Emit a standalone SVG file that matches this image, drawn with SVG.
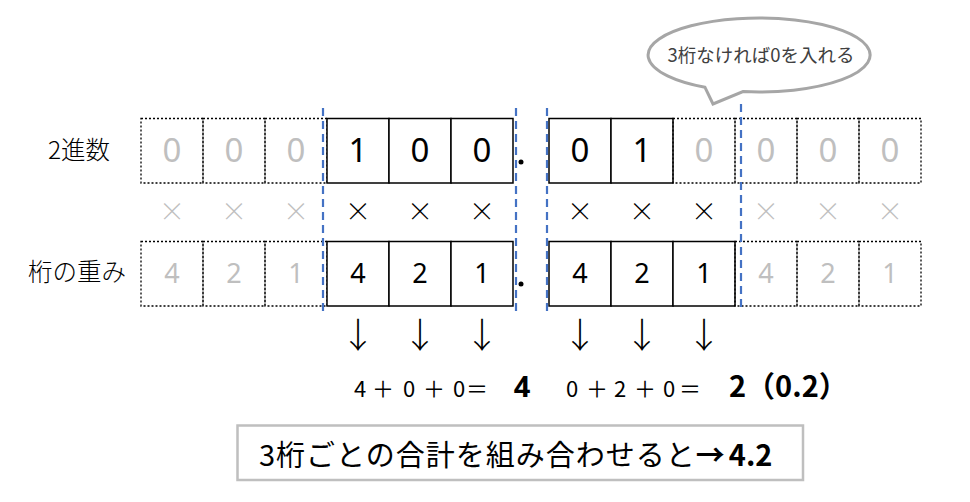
<svg xmlns="http://www.w3.org/2000/svg" width="970" height="502" viewBox="0 0 970 502">
<style>
.jp{font-family:"Noto Sans CJK JP","Noto Sans",sans-serif}
.lt{font-weight:300}
.sol{fill:#fff;stroke:#000;stroke-width:1.5}
.dot{fill:none;stroke:#000;stroke-width:1.3;stroke-dasharray:2 2}
.blue{stroke:#4472c4;stroke-width:2.2;stroke-dasharray:8 5;fill:none}
.dg{font-family:"Noto Sans","Noto Sans CJK JP",sans-serif;text-anchor:middle}
.big{font-size:33px}
.mid{font-size:27px}
.gray{fill:#bfbfbf}
.blk{fill:#000}
.x{font-family:"Noto Sans CJK JP",sans-serif;font-size:26px;text-anchor:middle;font-weight:300}
.arr{font-family:"Noto Sans CJK JP",sans-serif;font-size:35px;text-anchor:middle;fill:#000;font-weight:300}
</style>
<rect width="970" height="502" fill="#fff"/>

<g id="labels" class="jp lt" fill="#000">
<text x="48" y="159" font-size="24.5">2進数</text>
<text x="28" y="281" font-size="24.5">桁の重み</text>
</g>

<g id="row-binary">
<rect class="dot" x="141" y="118.5" width="62" height="64.5"/>
<rect class="dot" x="203" y="118.5" width="62" height="64.5"/>
<rect class="dot" x="265" y="118.5" width="62" height="64.5"/>
<rect class="sol" x="327" y="118.5" width="62" height="64.5"/>
<rect class="sol" x="389" y="118.5" width="62" height="64.5"/>
<rect class="sol" x="451" y="118.5" width="62" height="64.5"/>
<rect class="sol" x="549" y="118.5" width="62" height="64.5"/>
<rect class="sol" x="611" y="118.5" width="62" height="64.5"/>
<rect class="dot" x="673" y="118.5" width="62" height="64.5"/>
<rect class="dot" x="735" y="118.5" width="62" height="64.5"/>
<rect class="dot" x="797" y="118.5" width="62" height="64.5"/>
<rect class="dot" x="859" y="118.5" width="62" height="64.5"/>
<g class="dg big">
<text class="gray" x="172" y="162">0</text>
<text class="gray" x="234" y="162">0</text>
<text class="gray" x="296" y="162">0</text>
<text class="blk" x="358" y="162">1</text>
<text class="blk" x="420" y="162">0</text>
<text class="blk" x="482" y="162">0</text>
<text class="blk" x="580" y="162">0</text>
<text class="blk" x="642" y="162">1</text>
<text class="gray" x="704" y="162">0</text>
<text class="gray" x="766" y="162">0</text>
<text class="gray" x="828" y="162">0</text>
<text class="gray" x="890" y="162">0</text>
</g>
<circle cx="521" cy="162" r="2.5" fill="#000"/>
</g>

<g id="row-times" class="x">
<text class="gray" x="172" y="221">×</text>
<text class="gray" x="234" y="221">×</text>
<text class="gray" x="296" y="221">×</text>
<text class="blk" x="358" y="221">×</text>
<text class="blk" x="420" y="221">×</text>
<text class="blk" x="482" y="221">×</text>
<text class="blk" x="580" y="221">×</text>
<text class="blk" x="642" y="221">×</text>
<text class="blk" x="704" y="221">×</text>
<text class="gray" x="766" y="221">×</text>
<text class="gray" x="828" y="221">×</text>
<text class="gray" x="890" y="221">×</text>
</g>

<g id="row-weight">
<rect class="dot" x="141" y="241.5" width="62" height="64.5"/>
<rect class="dot" x="203" y="241.5" width="62" height="64.5"/>
<rect class="dot" x="265" y="241.5" width="62" height="64.5"/>
<rect class="sol" x="327" y="241.5" width="62" height="64.5"/>
<rect class="sol" x="389" y="241.5" width="62" height="64.5"/>
<rect class="sol" x="451" y="241.5" width="62" height="64.5"/>
<rect class="sol" x="549" y="241.5" width="62" height="64.5"/>
<rect class="sol" x="611" y="241.5" width="62" height="64.5"/>
<rect class="sol" x="673" y="241.5" width="62" height="64.5"/>
<rect class="dot" x="735" y="241.5" width="62" height="64.5"/>
<rect class="dot" x="797" y="241.5" width="62" height="64.5"/>
<rect class="dot" x="859" y="241.5" width="62" height="64.5"/>
<g class="dg mid">
<text class="gray" x="172" y="283">4</text>
<text class="gray" x="234" y="283">2</text>
<text class="gray" x="296" y="283">1</text>
<text class="blk" x="358" y="283">4</text>
<text class="blk" x="420" y="283">2</text>
<text class="blk" x="482" y="283">1</text>
<text class="blk" x="580" y="283">4</text>
<text class="blk" x="642" y="283">2</text>
<text class="blk" x="704" y="283">1</text>
<text class="gray" x="766" y="283">4</text>
<text class="gray" x="828" y="283">2</text>
<text class="gray" x="890" y="283">1</text>
</g>
<circle cx="521" cy="284" r="2.5" fill="#000"/>
</g>

<g id="connectors">
<line class="blue" x1="323" y1="108" x2="323" y2="313"/>
<line class="blue" x1="516" y1="108" x2="516" y2="313"/>
<line class="blue" x1="547" y1="108" x2="547" y2="313"/>
<line class="blue" x1="741" y1="104" x2="741" y2="310"/>
</g>

<g id="callout">
<path d="M705,87.3 L713,104 L743,91.6 A111,37 0 1 0 705,87.3 Z" fill="#fff" stroke="#a6a6a6" stroke-width="3" stroke-linejoin="miter"/>
<text class="jp" x="761" y="62" font-size="18.5" text-anchor="middle" fill="#404040">3桁なければ0を入れる</text>
</g>

<g id="arrows">
<text class="arr" x="358" y="348">↓</text>
<text class="arr" x="420" y="348">↓</text>
<text class="arr" x="482" y="348">↓</text>
<text class="arr" x="580" y="348">↓</text>
<text class="arr" x="642" y="348">↓</text>
<text class="arr" x="704" y="348">↓</text>
</g>

<g id="sums" fill="#000">
<text class="jp" font-size="22" y="397" text-anchor="middle" x="360 383 409 434 459 477">4＋0＋0＝</text>
<text font-family="Noto Sans, sans-serif" font-weight="bold" font-size="29" x="522" y="397" text-anchor="middle">4</text>
<text class="jp" font-size="22" y="397" text-anchor="middle" x="572 597 620 645 669 690">0＋2＋0＝</text>
<text class="jp" font-weight="bold" font-size="29" x="729" y="397">2（0.2）</text>
</g>

<g id="summary">
<rect x="237.5" y="425.5" width="565.5" height="54.5" fill="#fff" stroke="#bfbfbf" stroke-width="2.5"/>
<text class="jp" font-size="29" x="259" y="466" letter-spacing="1" fill="#000">3桁ごとの合計を組み合わせると<tspan font-weight="bold" letter-spacing="0">→</tspan><tspan font-weight="bold" letter-spacing="0" dx="4">4.2</tspan></text>
</g>
</svg>
